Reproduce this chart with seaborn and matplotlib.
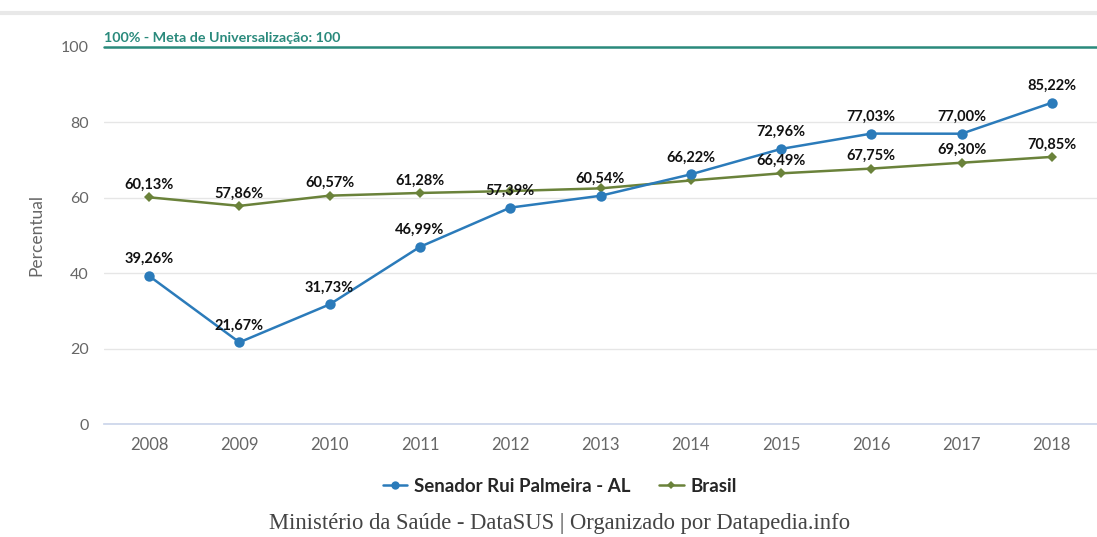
import matplotlib
matplotlib.use("Agg")
import matplotlib.pyplot as plt
import seaborn as sns
import pandas as pd
from matplotlib.lines import Line2D

# Cobertura populacional (%) por ano
anos = ["2008", "2009", "2010", "2011", "2012", "2013", "2014", "2015", "2016", "2017", "2018"]
municipio = [39.26, 21.67, 31.73, 46.99, 57.39, 60.54, 66.22, 72.96, 77.03, 77.00, 85.22]
brasil = [60.13, 57.86, 60.57, 61.28, 61.8, 62.5, 64.6, 66.49, 67.75, 69.30, 70.85]
brasil_rotulos = [True, True, True, True, False, False, False, True, True, True, True]
nome_municipio = "Senador Rui Palmeira - AL"
nome_brasil = "Brasil"
meta = 100
meta_texto = "100% - Meta de Universalização: 100"
y_ticks = [0, 20, 40, 60, 80, 100]
fonte = "Ministério da Saúde - DataSUS | Organizado por Datapedia.info"

AZUL = "#2b7bba"
VERDE = "#6a823a"
TEAL = "#2a8a7c"
CINZA = "#666666"

sns.set_theme(style="white")
plt.rcParams["font.family"] = ["Lato", "DejaVu Sans"]

df = pd.DataFrame({
    "ano": list(range(len(anos))) * 2,
    "valor": municipio + brasil,
    "serie": [nome_municipio] * len(anos) + [nome_brasil] * len(anos),
})

fig = plt.figure(figsize=(10.97, 5.37), dpi=100)
ax = fig.add_axes([104 / 1097, 113 / 537, 993 / 1097, 377 / 537])

sns.lineplot(data=df[df.serie == nome_brasil], x="ano", y="valor", color=VERDE,
             marker="D", markersize=5, markeredgewidth=0, linewidth=1.8, ax=ax, zorder=3)
sns.lineplot(data=df[df.serie == nome_municipio], x="ano", y="valor", color=AZUL,
             marker="o", markersize=7.5, markeredgewidth=0, linewidth=1.8, ax=ax, zorder=4)

def fmt(v):
    return f"{v:.2f}%".replace(".", ",")

for i, v in enumerate(municipio):
    ax.annotate(fmt(v), (i, v), xytext=(0, 7), textcoords="offset points",
                ha="center", va="bottom", fontsize=10.5, fontweight="bold",
                color="#111111", zorder=6)
for i, v in enumerate(brasil):
    if brasil_rotulos[i]:
        ax.annotate(fmt(v), (i, v), xytext=(0, 4), textcoords="offset points",
                    ha="center", va="bottom", fontsize=10.5, fontweight="bold",
                    color="#111111", zorder=6)

# linha da meta
ax.axhline(meta, color=TEAL, linewidth=1.8, clip_on=False, zorder=5)
ax.text(0.0, meta + 0.8, meta_texto, transform=ax.get_yaxis_transform(),
        color=TEAL, fontsize=10.3, fontweight="bold", ha="left", va="bottom")

ax.set_xlim(-0.5, len(anos) - 0.5)
ax.set_ylim(0, 100)
ax.set_yticks(y_ticks)
ax.set_yticklabels([str(t) for t in y_ticks], color=CINZA, fontsize=11.5)
ax.set_xticks(range(len(anos)))
ax.set_xticklabels(anos, color=CINZA, fontsize=12)
ax.set_xticks([i - 0.5 for i in range(len(anos) + 1)], minor=True)
ax.tick_params(axis="x", which="major", length=0, pad=9)
ax.tick_params(axis="x", which="minor", length=8, color="#ccd6eb", width=1)
ax.tick_params(axis="y", length=0, pad=11)
ax.yaxis.grid(True, color="#e6e6e6", linewidth=1)
ax.set_axisbelow(True)
for s in ["top", "right", "left"]:
    ax.spines[s].set_visible(False)
ax.spines["bottom"].set_color("#ccd6eb")
ax.set_xlabel("")
ax.set_ylabel("Percentual", color=CINZA, fontsize=12.5, labelpad=12)
if ax.get_legend() is not None:
    ax.get_legend().remove()

handles = [
    Line2D([], [], color=AZUL, marker="o", markersize=6, markeredgewidth=0, linewidth=1.8),
    Line2D([], [], color=VERDE, marker="D", markersize=4.5, markeredgewidth=0, linewidth=1.8),
]
fig.legend(handles, [nome_municipio, nome_brasil], loc="center", bbox_to_anchor=(560 / 1097, 1 - 486 / 537),
           ncol=2, frameon=False, prop={"weight": "bold", "size": 13.5}, handlelength=1.3,
           handletextpad=0.4, columnspacing=1.5)

# faixa cinza no topo
fig.add_artist(Line2D([0, 1], [1 - 13 / 537, 1 - 13 / 537], color="#e8e8e8", linewidth=3))

fig.text(560 / 1097, 1 - 523 / 537, fonte, ha="center", va="center",
         family=["Liberation Serif", "DejaVu Serif"], fontsize=16.3, color="#444444")

fig.savefig("out.png", dpi=100)
